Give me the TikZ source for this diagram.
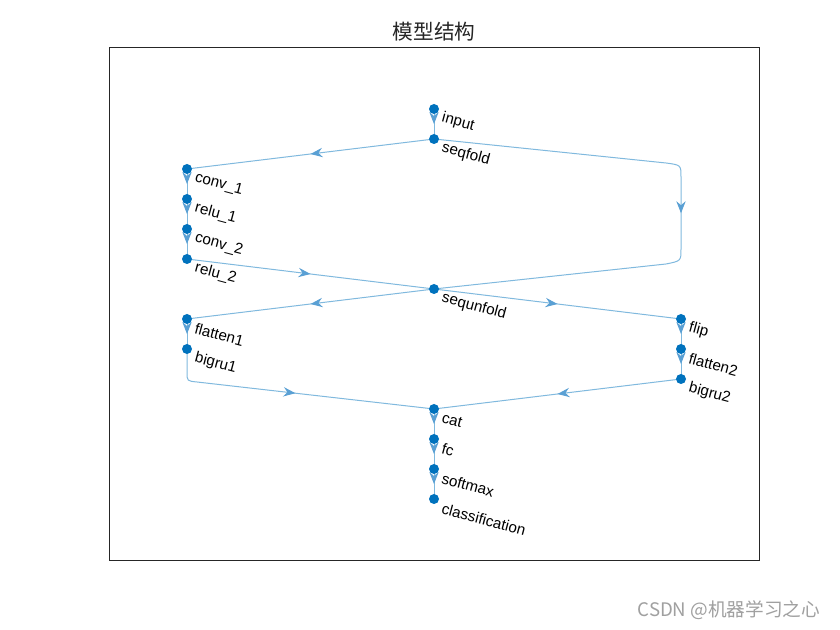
\documentclass[tikz,border=0pt]{standalone}
\usepackage{fontspec}
\setmainfont{Liberation Sans}
\newfontfamily\cjk{Noto Sans CJK SC}
\usetikzlibrary{arrows.meta,decorations.markings,backgrounds}
\definecolor{mkblue}{RGB}{0,114,189}
\definecolor{edgeblue}{RGB}{128,185,222}
\definecolor{tipblue}{RGB}{90,160,212}
\definecolor{axcol}{RGB}{38,38,38}
\definecolor{wmgray}{RGB}{160,160,160}
\begin{document}
\begin{tikzpicture}[x=0.75pt,y=-0.75pt,
  dot/.style={circle,fill=mkblue,inner sep=0pt,minimum size=7.5pt},
  lbl/.style={anchor=west,rotate=-15,inner sep=0pt,font=\fontsize{11.4}{13}\selectfont},
  edge/.style={draw=edgeblue,line width=0.75pt,postaction={decorate},
    decoration={markings,mark=at position 0.5 with {\arrow{Stealth[length=9pt,width=7pt,inset=3pt,color=tipblue]}}}}]
\useasboundingbox (0,0) rectangle (840,630);
\draw[line width=0.5pt,axcol] (109,47) rectangle (759,560);
\node[font=\cjk\fontsize{15.5}{18}\selectfont,text=axcol] (title) at (434,32) {模型结构};
\node[anchor=east,font=\cjk\fontsize{14}{16}\selectfont,text=wmgray] (wm) at (825,610) {CSDN @机器学习之心};

% nodes
\node[dot] (input) at (434,109) {};
\node[dot] (seqfold) at (434,139) {};
\node[dot] (conv1) at (187,169) {};
\node[dot] (relu1) at (187,199) {};
\node[dot] (conv2) at (187,229) {};
\node[dot] (relu2) at (187,259) {};
\node[dot] (sequnfold) at (434,289) {};
\node[dot] (flatten1) at (187,319) {};
\node[dot] (bigru1) at (187,349) {};
\node[dot] (flip) at (681,319) {};
\node[dot] (flatten2) at (681,349) {};
\node[dot] (bigru2) at (681,379) {};
\node[dot] (cat) at (434,409) {};
\node[dot] (fc) at (434,439) {};
\node[dot] (softmax) at (434,469) {};
\node[dot] (classification) at (434,499) {};

% labels
\node[lbl] (t-input) at ([shift={(8,9)}]input.center) {input};
\node[lbl] (t-seqfold) at ([shift={(8,9)}]seqfold.center) {seqfold};
\node[lbl] (t-conv1) at ([shift={(8,9)}]conv1.center) {conv\_1};
\node[lbl] (t-relu1) at ([shift={(8,9)}]relu1.center) {relu\_1};
\node[lbl] (t-conv2) at ([shift={(8,9)}]conv2.center) {conv\_2};
\node[lbl] (t-relu2) at ([shift={(8,9)}]relu2.center) {relu\_2};
\node[lbl] (t-sequnfold) at ([shift={(8,9)}]sequnfold.center) {sequnfold};
\node[lbl] (t-flatten1) at ([shift={(8,9)}]flatten1.center) {flatten1};
\node[lbl] (t-bigru1) at ([shift={(8,9)}]bigru1.center) {bigru1};
\node[lbl] (t-flip) at ([shift={(8,9)}]flip.center) {flip};
\node[lbl] (t-flatten2) at ([shift={(8,9)}]flatten2.center) {flatten2};
\node[lbl] (t-bigru2) at ([shift={(8,9)}]bigru2.center) {bigru2};
\node[lbl] (t-cat) at ([shift={(8,9)}]cat.center) {cat};
\node[lbl] (t-fc) at ([shift={(8,9)}]fc.center) {fc};
\node[lbl] (t-softmax) at ([shift={(8,9)}]softmax.center) {softmax};
\node[lbl] (t-classification) at ([shift={(8,9)}]classification.center) {classification};

% edges
\begin{scope}[on background layer]
\fill[white] (0,0) rectangle (840,630);
\draw[edge] (input.center) -- (seqfold.center);
\draw[edge] (seqfold.center) -- (666,163) .. controls (681,165) .. (681,177) -- (681,249) .. controls (681,261) .. (666,264) -- (sequnfold.center);
\draw[edge] (seqfold.center) -- (conv1.center);
\draw[edge] (conv1.center) -- (relu1.center);
\draw[edge] (relu1.center) -- (conv2.center);
\draw[edge] (conv2.center) -- (relu2.center);
\draw[edge] (relu2.center) -- (sequnfold.center);
\draw[edge] (sequnfold.center) -- (flatten1.center);
\draw[edge] (sequnfold.center) -- (flip.center);
\draw[edge] (flatten1.center) -- (bigru1.center);
\draw[edge] (flip.center) -- (flatten2.center);
\draw[edge] (flatten2.center) -- (bigru2.center);
\draw[edge] (bigru1.center) -- (187,372) .. controls (187,381) .. (197,382) -- (cat.center);
\draw[edge] (bigru2.center) -- (cat.center);
\draw[edge] (cat.center) -- (fc.center);
\draw[edge] (fc.center) -- (softmax.center);
\draw[edge] (softmax.center) -- (classification.center);
\end{scope}
\end{tikzpicture}
\end{document}
